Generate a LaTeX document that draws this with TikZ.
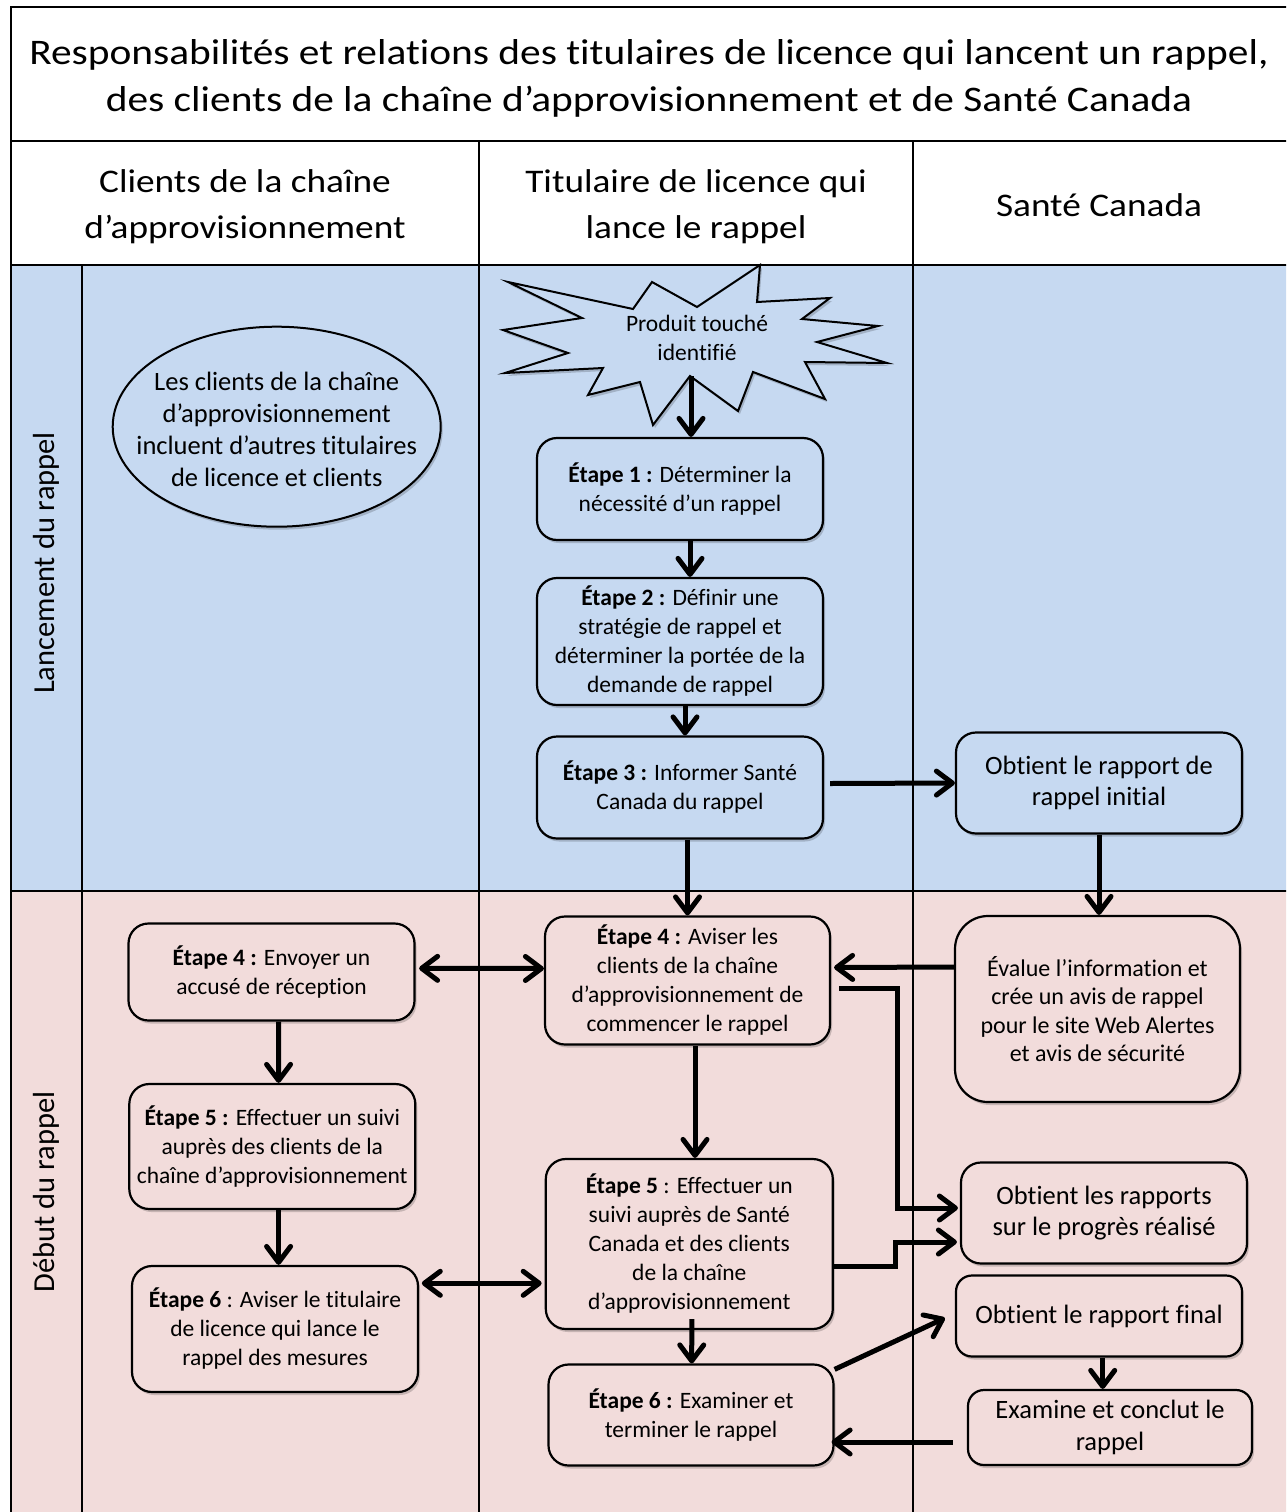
\documentclass[tikz,border=0pt]{standalone}
\usepackage{fontspec}
\setmainfont{Carlito}[Ligatures=NoCommon]
\newfontfamily\titlefont{Carlito}[FakeStretch=1.15,Ligatures=NoCommon]
\newfontfamily\headfont{Carlito}[FakeStretch=1.13,Ligatures=NoCommon]
\usetikzlibrary{arrows.meta,shadows,calc}
\definecolor{bluebg}{RGB}{198,217,241}
\definecolor{pinkbg}{RGB}{242,220,219}
\begin{document}
\begin{tikzpicture}[x=1pt,y=-1pt,
  tline/.style={line width=2.5pt},
  shad/.style={drop shadow={shadow xshift=2pt,shadow yshift=-3pt,opacity=0.18,fill=black}},
  box/.style={draw,line width=2.2pt,rounded corners=20pt,align=center,inner sep=0pt,minimum width=286pt,shad},
  bbox/.style={box,fill=bluebg},
  pbox/.style={box,fill=pinkbg},
  stepfont/.style={font=\fontsize{23.5}{29}\selectfont},
  scfont/.style={font=\fontsize{26.5}{31.7}\selectfont},
  tip/.tip={Straight Barb[length=16pt,width=24pt,round]},
  arr/.style={line width=5pt,-tip},
  darr/.style={line width=5pt,tip-tip},
]
\clip (0,0) rectangle (1286,1512);
\fill[white] (0,0) rectangle (1286,1512);
\fill[bluebg] (11,265) rectangle (1292,891);
\fill[pinkbg] (11,891) rectangle (1292,1516);
% table
\draw[tline] (11,7) rectangle (1290,1520);
\draw[tline] (11,141) -- (1292,141);
\draw[tline] (11,265) -- (1292,265);
\draw[tline] (11,891) -- (1292,891);
\draw[tline] (82,265) -- (82,1516);
\draw[tline] (479,141) -- (479,1516);
\draw[tline] (913,141) -- (913,1516);
% title and headers
\node[font=\titlefont\fontsize{36}{47}\selectfont,align=center] (title) at (649,78)
  {Responsabilités et relations des titulaires de licence qui lancent un rappel,\\des clients de la chaîne d’approvisionnement et de Santé Canada};
\node[font=\headfont\fontsize{33}{46}\selectfont,align=center] (h1) at (245,207)
  {Clients de la chaîne\\d’approvisionnement};
\node[font=\headfont\fontsize{33}{46}\selectfont,align=center] (h2) at (696,207)
  {Titulaire de licence qui\\lance le rappel};
\node[font=\headfont\fontsize{33}{46}\selectfont,align=center] (h3) at (1099,205)
  {Santé Canada};
\node[rotate=90,font=\fontsize{30.5}{36}\selectfont] (lanc) at (46,563) {Lancement du rappel};
\node[rotate=90,font=\fontsize{30.5}{36}\selectfont] (debut) at (46,1192) {Début du rappel};
% ellipse
\coordinate (ellc) at (276.7,426.7);
\draw[line width=2pt,fill=bluebg,shad] (ellc) ellipse [x radius=164pt,y radius=100pt];
\node[font=\fontsize{26.5}{32}\selectfont,align=center] (incl) at (276.7,429)
  {Les clients de la chaîne\\d’approvisionnement\\incluent d’autres titulaires\\de licence et clients};
% starburst
\draw[line width=2pt,fill=bluebg,shad] (508,282) -- (633,309) -- (652,282) -- (697,307) -- (760,265)
  -- (757,302) -- (830,298) -- (802,319) -- (878,326) -- (817,342) -- (887,363) -- (805,362)
  -- (825,399) -- (753,372) -- (738,411) -- (690,376) -- (653,425) -- (640,382) -- (588,395)
  -- (603,368) -- (505,373) -- (568,353) -- (503,330) -- (582,318) -- cycle;
\node[stepfont,align=center] (star) at (697,338) {Produit touché\\identifié};
\coordinate (starb) at (691,376);
% middle column
\node[bbox,stepfont,minimum height=102pt] (s1) at (680,489) {\textbf{Étape 1 :} Déterminer la\\nécessité d’un rappel};
\node[bbox,stepfont,minimum height=127pt] (s2) at (680,641.5) {\textbf{Étape 2 :} Définir une\\stratégie de rappel et\\déterminer la portée de la\\demande de rappel};
\node[bbox,stepfont,minimum height=102pt] (s3) at (680,787.5) {\textbf{Étape 3 :} Informer Santé\\Canada du rappel};
\node[pbox,stepfont,minimum width=285pt,minimum height=128pt] (s4m) at (687.5,980.5) {\textbf{Étape 4 :} Aviser les\\clients de la chaîne\\d’approvisionnement de\\commencer le rappel};
\node[pbox,stepfont,minimum width=287pt,minimum height=170pt] (s5m) at (689.3,1244) {\textbf{Étape 5} : Effectuer un\\suivi auprès de Santé\\Canada et des clients\\de la chaîne\\d’approvisionnement};
\node[pbox,stepfont,minimum width=285pt,minimum height=101pt] (s6m) at (691,1415) {\textbf{Étape 6 :} Examiner et\\terminer le rappel};
% left column
\node[pbox,stepfont,minimum height=97pt] (s4l) at (271.5,972) {\textbf{Étape 4 :} Envoyer un\\accusé de réception};
\node[pbox,stepfont,minimum height=125pt] (s5l) at (272.3,1146.5) {\textbf{Étape 5 :} Effectuer un suivi\\auprès des clients de la\\chaîne d’approvisionnement};
\node[pbox,stepfont,minimum height=126pt] (s6l) at (275,1329) {\textbf{Étape 6} : Aviser le titulaire\\de licence qui lance le\\rappel des mesures};
% right column
\node[bbox,scfont,minimum height=101pt] (ini) at (1099,783) {Obtient le rapport de\\rappel initial};
\node[pbox,font=\fontsize{24}{28.5}\selectfont,minimum width=285pt,minimum height=186pt,rounded corners=33pt] (eval) at (1097.5,1009) {Évalue l’information et\\crée un avis de rappel\\pour le site Web Alertes\\et avis de sécurité};
\node[pbox,scfont,minimum height=101pt] (prog) at (1104,1213) {Obtient les rapports\\sur le progrès réalisé};
\node[pbox,scfont,minimum height=81pt,rounded corners=16pt] (fin) at (1099,1316) {Obtient le rapport final};
\node[pbox,scfont,minimum width=284pt,minimum height=75pt,rounded corners=16pt] (exam) at (1110,1427.5) {Examine et conclut le\\rappel};
% connectors
\draw[arr] (starb) -- (starb |- s1.north);
\draw[arr] ($(s1.south)+(10,0)$) -- ($(s2.north)+(10,0)$);
\draw[arr] ($(s2.south)+(5,0)$) -- ($(s3.north)+(5,0)$);
\draw[arr] (s3.south -| s4m.north) -- (s4m.north);
\draw[arr] ($(s3.east)+(6,-4)$) -- (ini.west);
\draw[arr] (ini.south) -- (ini.south |- eval.north);
\draw[arr] ($(eval.west)+(0,-42)$) -- ($(s4m.east)+(3,-13)$);
\draw[arr] ($(s4m.east)+(8,8)$) -| ($(prog.west)+(-62.5,-5)$) -- ($(prog.west)+(-2,-5)$);
\draw[arr] ($(s5m.east)+(0,22)$) -| ($(prog.west)+(-64,29)$) -- ($(prog.west)+(-3,29)$);
\draw[arr] ($(s4m.south)+(7.5,0)$) -- ($(s5m.north)+(5.7,0)$);
\draw[arr] ($(s5m.south)+(2.5,-11)$) -- ($(s6m.north)+(0.7,0)$);
\draw[arr] ($(s6m.north east)+(0,6)$) -- ($(fin.west)+(-10,2)$);
\draw[arr] ($(fin.south)+(3.7,0)$) -- ($(exam.north)+(-7.3,0)$);
\draw[arr] ($(exam.west)+(-14,14.5)$) -- ($(s6m.east)+(-3,27)$);
\draw[darr] ($(s4l.east)+(3.5,-3.7)$) -- ($(s4m.west)+(0,-12)$);
\draw[arr] ($(s4l.south)+(7,0)$) -- ($(s5l.north)+(6.3,0)$);
\draw[arr] ($(s5l.south)+(6.3,0)$) -- ($(s6l.north)+(3.6,0)$);
\draw[darr] ($(s6l.east)+(2.7,-45.7)$) -- ($(s5m.west)+(-3,39.3)$);
\end{tikzpicture}
\end{document}
